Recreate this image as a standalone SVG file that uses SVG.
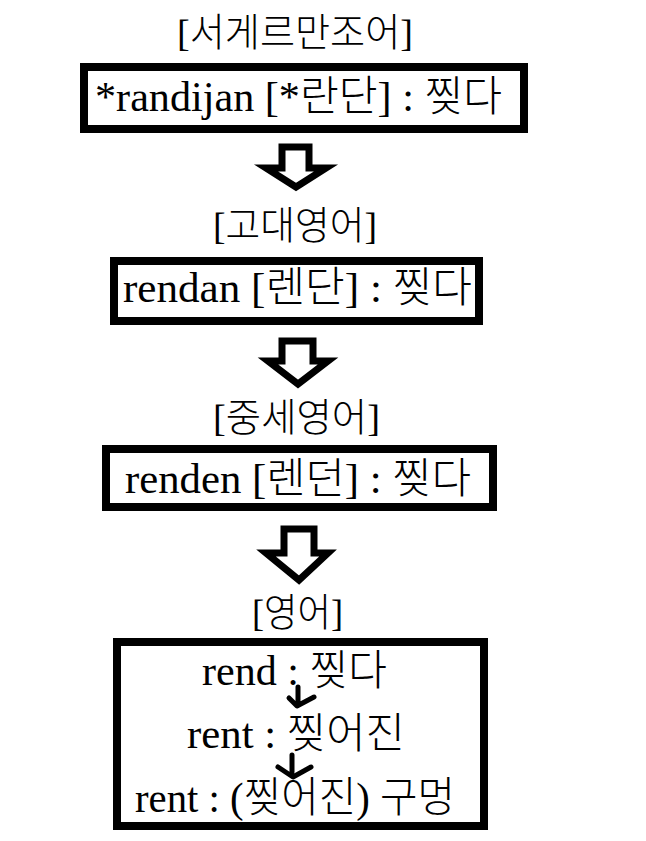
<svg xmlns="http://www.w3.org/2000/svg" width="646" height="841" viewBox="0 0 646 841">
<style>
.t{font-family:"Liberation Serif","Noto Sans CJK KR",serif;fill:#000;text-anchor:middle;font-weight:300}
.title{font-size:38.5px}
.lab{font-size:42.5px}
.box{fill:#fff;stroke:#000;stroke-width:8}
.big{fill:#fff;stroke:#000;stroke-width:7;stroke-linejoin:miter}
.small{fill:none;stroke:#000;stroke-width:5;stroke-linecap:round;stroke-linejoin:round}
</style>
<rect width="646" height="841" fill="#fff"/>
<g id="title1"><text class="t title" x="295" y="46" textLength="236" lengthAdjust="spacingAndGlyphs">[서게르만조어]</text></g>
<g id="node1">
<rect class="box" x="84" y="67" width="440" height="62"/>
<text class="t lab" x="298.5" y="111" textLength="407" lengthAdjust="spacingAndGlyphs">*randijan [*란단] : 찢다</text>
</g>
<g id="title2"><text class="t title" x="295" y="239" textLength="164" lengthAdjust="spacingAndGlyphs">[고대영어]</text></g>
<g id="node2">
<rect class="box" x="114" y="261" width="365" height="60"/>
<text class="t lab" x="297.5" y="302" textLength="349" lengthAdjust="spacingAndGlyphs">rendan [렌단] : 찢다</text>
</g>
<g id="title3"><text class="t title" x="296.5" y="431" textLength="167" lengthAdjust="spacingAndGlyphs">[중세영어]</text></g>
<g id="node3">
<rect class="box" x="106" y="449" width="387" height="58"/>
<text class="t lab" x="298" y="493" textLength="346" lengthAdjust="spacingAndGlyphs">renden [렌던] : 찢다</text>
</g>
<g id="title4"><text class="t title" x="297.5" y="626" textLength="91" lengthAdjust="spacingAndGlyphs">[영어]</text></g>
<g id="node4">
<rect class="box" x="117" y="642" width="367" height="184"/>
<text class="t lab" x="294.5" y="685" textLength="185" lengthAdjust="spacingAndGlyphs">rend : 찢다</text>
<text class="t lab" x="296" y="748" textLength="218" lengthAdjust="spacingAndGlyphs">rent : 찢어진</text>
<text class="t lab" x="295" y="812" textLength="320" lengthAdjust="spacingAndGlyphs">rent : (찢어진) 구멍</text>
</g>
<g id="connectors">
<path class="big" d="M282,147 H309 V168 H326 L296,187 L266,168 H282 Z"/>
<path class="big" d="M282,341 H313 V361 H328 L298,384 L268,361 H282 Z"/>
<path class="big" d="M284,529 H314 V553 H328 L299,580 L266,553 H284 Z"/>
<path class="small" d="M298,687 V704 M289,698 L297,706 L314,697"/>
<path class="small" d="M292,755 V772 M278,767 L293,777 L311,767"/>
</g>
</svg>
